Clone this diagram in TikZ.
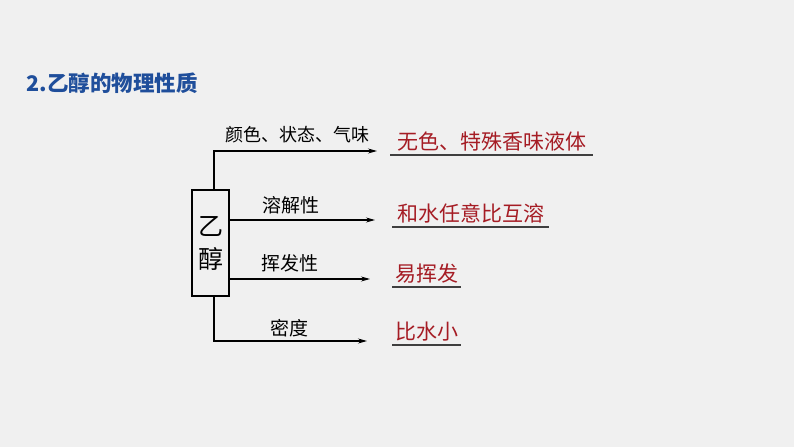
\documentclass[tikz,border=0pt]{standalone}
\usepackage{fontspec}
\setmainfont{Noto Sans CJK SC}
\usetikzlibrary{arrows.meta}
\definecolor{titleblue}{HTML}{1F4E9B}
\definecolor{ansred}{HTML}{A51C24}
\definecolor{ulgrey}{HTML}{3F3F3F}
\definecolor{bggrey}{HTML}{F0F0F0}

\begin{document}
\begin{tikzpicture}[x=1pt,y=1pt]
    \tikzset{
      link/.style={line width=1.1pt, -{Stealth[length=9pt,width=5pt]}},
      prop/.style={font=\fontsize{19}{19}\selectfont, inner sep=0pt},
      answer/.style={font=\fontsize{21}{21}\selectfont, text=ansred, anchor=south west,
        inner xsep=5pt, inner ysep=0pt, text height=17pt, text depth=5pt},
      uline/.style={ulgrey, line width=1.6pt}
    }
    \fill[bggrey] (0,0) rectangle (794,447);
    \useasboundingbox (0,0) rectangle (794,447);

    % title
    \node[anchor=west, text=titleblue, font=\fontsize{21.5}{21.5}\selectfont\bfseries]
      (title) at (23,364) {2.乙醇的物理性质};

    % box
    \node[draw, line width=1.1pt, minimum width=37pt, minimum height=106pt, inner sep=0pt,
      align=center, font=\fontsize{25}{33}\selectfont] (ethanol) at (210.5,204) {乙\\醇};

    % branch points
    \coordinate (up) at (214,257);
    \coordinate (upc) at (214,296);
    \coordinate (upe) at (377,296);
    \coordinate (s) at (ethanol.east |- 0,227);
    \coordinate (se) at (375,227);
    \coordinate (v) at (ethanol.east |- 0,168);
    \coordinate (ve) at (370,168);
    \coordinate (dn) at (214,151);
    \coordinate (dnc) at (214,106);
    \coordinate (dne) at (367,106);

    \draw[link] (up) -- (upc) -- (upe);
    \draw[link] (s) -- (se);
    \draw[link] (v) -- (ve);
    \draw[link] (dn) -- (dnc) -- (dne);

    % labels over the arrows
    \node[prop, font=\fontsize{18}{18}\selectfont] (l1) at (297,312) {颜色、状态、气味};
    \node[prop] (l2) at (291,242) {溶解性};
    \node[prop] (l3) at (290,184) {挥发性};
    \node[prop] (l4) at (289,119) {密度};

    % answers
    \node[answer, inner xsep=7pt] (a1) at (390,292) {无色、特殊香味液体};
    \node[answer] (a2) at (392,220) {和水任意比互溶};
    \node[answer, inner xsep=3pt] (a3) at (392,160) {易挥发};
    \node[answer, inner xsep=3pt] (a4) at (392,102) {比水小};
    \foreach \a in {a1,a2,a3,a4}
      \draw[uline] (\a.south west) -- (\a.south east);
\end{tikzpicture}
\end{document}
